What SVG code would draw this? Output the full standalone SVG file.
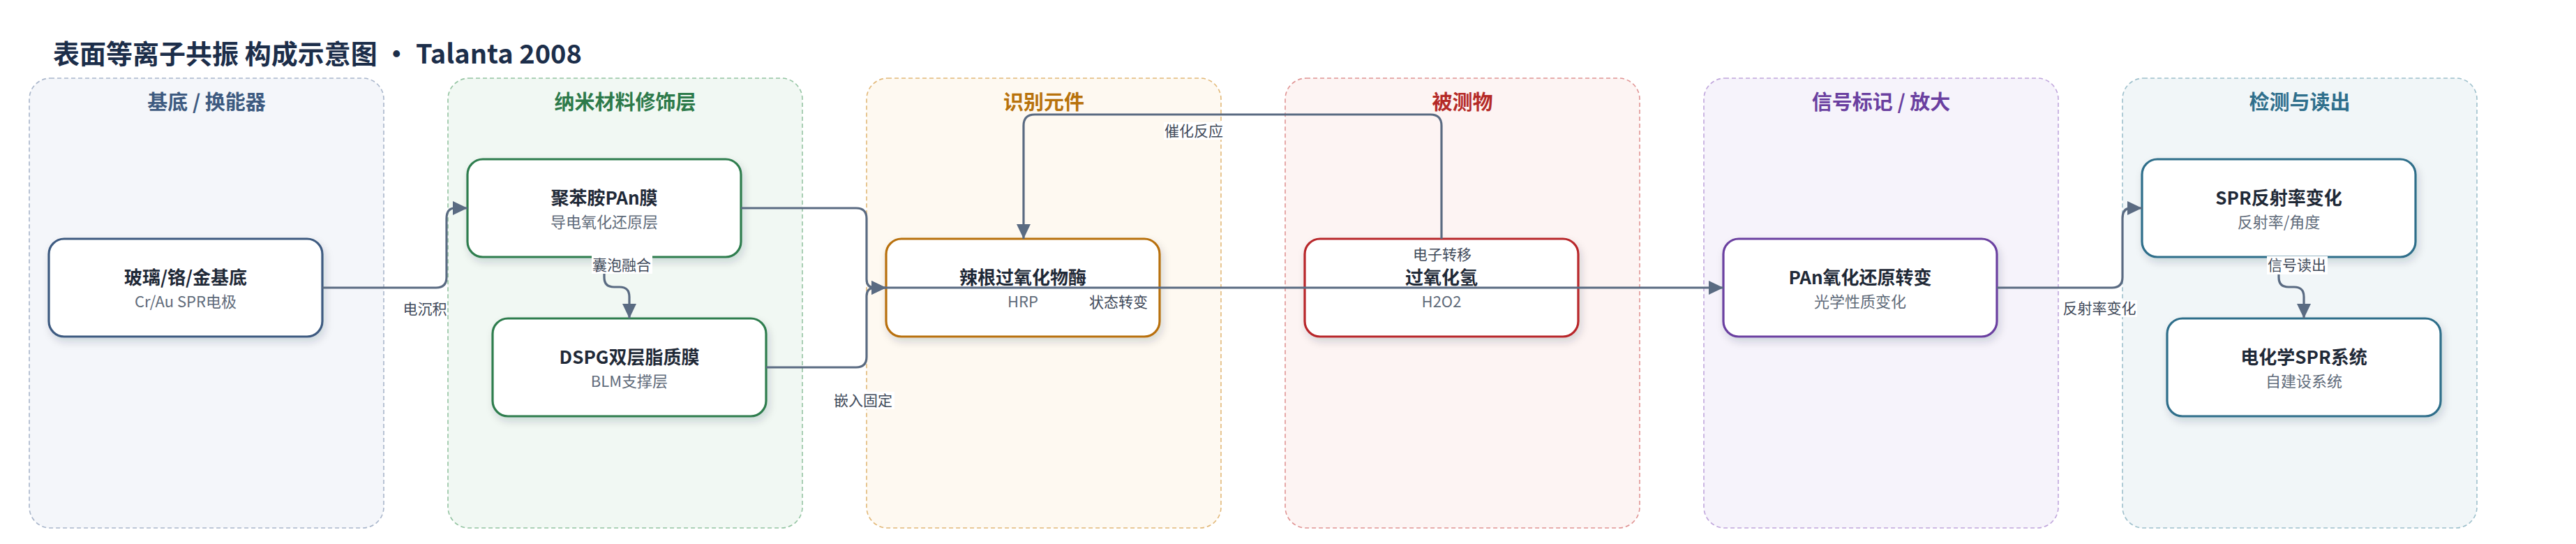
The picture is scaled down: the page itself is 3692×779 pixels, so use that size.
<svg xmlns="http://www.w3.org/2000/svg" width="3692" height="779" viewBox="0 0 3692 779">
<style>
text{font-family:"Noto Sans CJK SC","Noto Sans",sans-serif;}
.title{font-size:38px;font-weight:700;fill:#1c2e4a;}
.lane{stroke-width:1.6;stroke-dasharray:6 4;}
.lh{font-size:29px;font-weight:700;text-anchor:middle;}
.node{fill:#ffffff;stroke-width:3.2;filter:url(#sh);}
.nt{font-size:26px;font-weight:700;fill:#1f2937;text-anchor:middle;}
.ns{font-size:22px;fill:#5f6b7a;text-anchor:middle;}
.edge{fill:none;stroke:#5a6b82;stroke-width:3.2;marker-end:url(#arr);}
.lb{font-size:21px;fill:#3f4a5a;text-anchor:middle;}
.lbg{fill:#ffffff;}
</style>
<defs>
<filter id="sh" x="-10%" y="-15%" width="125%" height="140%">
<feDropShadow dx="3" dy="6" stdDeviation="6" flood-color="#1f2937" flood-opacity="0.16"/>
</filter>
<marker id="arr" markerUnits="userSpaceOnUse" markerWidth="22" markerHeight="22" viewBox="0 0 22 22" refX="21" refY="11" orient="auto">
<path d="M0,1 L21,11 L0,21 z" fill="#5a6b82"/>
</marker>
</defs>
<rect width="3692" height="779" fill="#ffffff"/>
<text class="title" x="76" y="91">表面等离子共振 构成示意图 • Talanta 2008</text>

<g id="lanes">
<g id="lane-substrate">
<rect class="lane" x="42" y="112" width="508" height="644" rx="30" fill="#f4f6fa" stroke="#a9b6cb"/>
<text class="lh" x="296" y="157" fill="#3d5a80">基底 / 换能器</text>
</g>
<g id="lane-nano">
<rect class="lane" x="642" y="112" width="508" height="644" rx="30" fill="#f1f8f3" stroke="#94c4a2"/>
<text class="lh" x="896" y="157" fill="#2d7a4a">纳米材料修饰层</text>
</g>
<g id="lane-recog">
<rect class="lane" x="1242" y="112" width="508" height="644" rx="30" fill="#fef9f1" stroke="#e2b878"/>
<text class="lh" x="1496" y="157" fill="#b8720c">识别元件</text>
</g>
<g id="lane-analyte">
<rect class="lane" x="1842" y="112" width="508" height="644" rx="30" fill="#fdf4f3" stroke="#e09494"/>
<text class="lh" x="2096" y="157" fill="#b52a27">被测物</text>
</g>
<g id="lane-signal">
<rect class="lane" x="2442" y="112" width="508" height="644" rx="30" fill="#f6f3fb" stroke="#c0a6dc"/>
<text class="lh" x="2696" y="157" fill="#6a3fa0">信号标记 / 放大</text>
</g>
<g id="lane-detect">
<rect class="lane" x="3042" y="112" width="508" height="644" rx="30" fill="#f1f6f8" stroke="#9ec0cc"/>
<text class="lh" x="3296" y="157" fill="#2f6f8c">检测与读出</text>
</g>
</g>

<g id="nodes">
<g id="n-substrate">
<rect class="node" x="70" y="342" width="392" height="140" rx="22" stroke="#3d5a80"/>
<text class="nt" x="266" y="407">玻璃/铬/金基底</text>
<text class="ns" x="266" y="440">Cr/Au SPR电极</text>
</g>
<g id="n-pan">
<rect class="node" x="670" y="228" width="392" height="140" rx="22" stroke="#2e7d4e"/>
<text class="nt" x="866" y="293">聚苯胺PAn膜</text>
<text class="ns" x="866" y="326">导电氧化还原层</text>
</g>
<g id="n-dspg">
<rect class="node" x="706" y="456" width="392" height="140" rx="22" stroke="#2e7d4e"/>
<text class="nt" x="902" y="521">DSPG双层脂质膜</text>
<text class="ns" x="902" y="554">BLM支撑层</text>
</g>
<g id="n-hrp">
<rect class="node" x="1270" y="342" width="392" height="140" rx="22" stroke="#b8700a"/>
<text class="nt" x="1466" y="407">辣根过氧化物酶</text>
<text class="ns" x="1466" y="440">HRP</text>
</g>
<g id="n-h2o2">
<rect class="node" x="1870" y="342" width="392" height="140" rx="22" stroke="#b8282a"/>
<text class="nt" x="2066" y="407">过氧化氢</text>
<text class="ns" x="2066" y="440">H2O2</text>
</g>
<g id="n-panredox">
<rect class="node" x="2470" y="342" width="392" height="140" rx="22" stroke="#6b3fa0"/>
<text class="nt" x="2666" y="407">PAn氧化还原转变</text>
<text class="ns" x="2666" y="440">光学性质变化</text>
</g>
<g id="n-spr">
<rect class="node" x="3070" y="228" width="392" height="140" rx="22" stroke="#2e6e8a"/>
<text class="nt" x="3266" y="293">SPR反射率变化</text>
<text class="ns" x="3266" y="326">反射率/角度</text>
</g>
<g id="n-system">
<rect class="node" x="3106" y="456" width="392" height="140" rx="22" stroke="#2e6e8a"/>
<text class="nt" x="3302" y="521">电化学SPR系统</text>
<text class="ns" x="3302" y="554">自建设系统</text>
</g>
</g>

<g id="connectors">
<path class="edge" d="M462,412 H625 Q640,412 640,397 V313 Q640,298 652,298 H670"/>
<path class="edge" d="M866,368 V397 Q866,411 880,411 H888 Q902,411 902,425 V456"/>
<path class="edge" d="M1062,298 H1227 Q1242,298 1242,313 V400 Q1242,412 1254,412 H1270"/>
<path class="edge" d="M1098,526 H1227 Q1242,526 1242,511 V424 Q1242,412 1254,412 H1270"/>
<path class="edge" d="M1270,412 H2470"/>
<path class="edge" d="M2066,342 V180 Q2066,164 2050,164 H1483 Q1467,164 1467,180 V342"/>
<path class="edge" d="M2862,412 H3027 Q3042,412 3042,397 V313 Q3042,298 3054,298 H3070"/>
<path class="edge" d="M3266,368 V397 Q3266,411 3280,411 H3288 Q3302,411 3302,425 V456"/>

<text class="lb" x="609" y="450">电沉积</text>
<rect class="lbg" x="848" y="366" width="87" height="26"/>
<text class="lb" x="891" y="387">囊泡融合</text>
<rect class="lbg" x="1193" y="561" width="89" height="25"/>
<text class="lb" x="1237" y="581">嵌入固定</text>
<text class="lb" x="1603" y="440">状态转变</text>
<rect class="lbg" x="1668" y="175" width="86" height="25"/>
<text class="lb" x="1711" y="195">催化反应</text>
<text class="lb" x="2067" y="372">电子转移</text>
<rect class="lbg" x="2955" y="430" width="108" height="24"/>
<text class="lb" x="3009" y="449">反射率变化</text>
<rect class="lbg" x="3249" y="367" width="87" height="26"/>
<text class="lb" x="3292" y="387">信号读出</text>
</g>
</svg>
